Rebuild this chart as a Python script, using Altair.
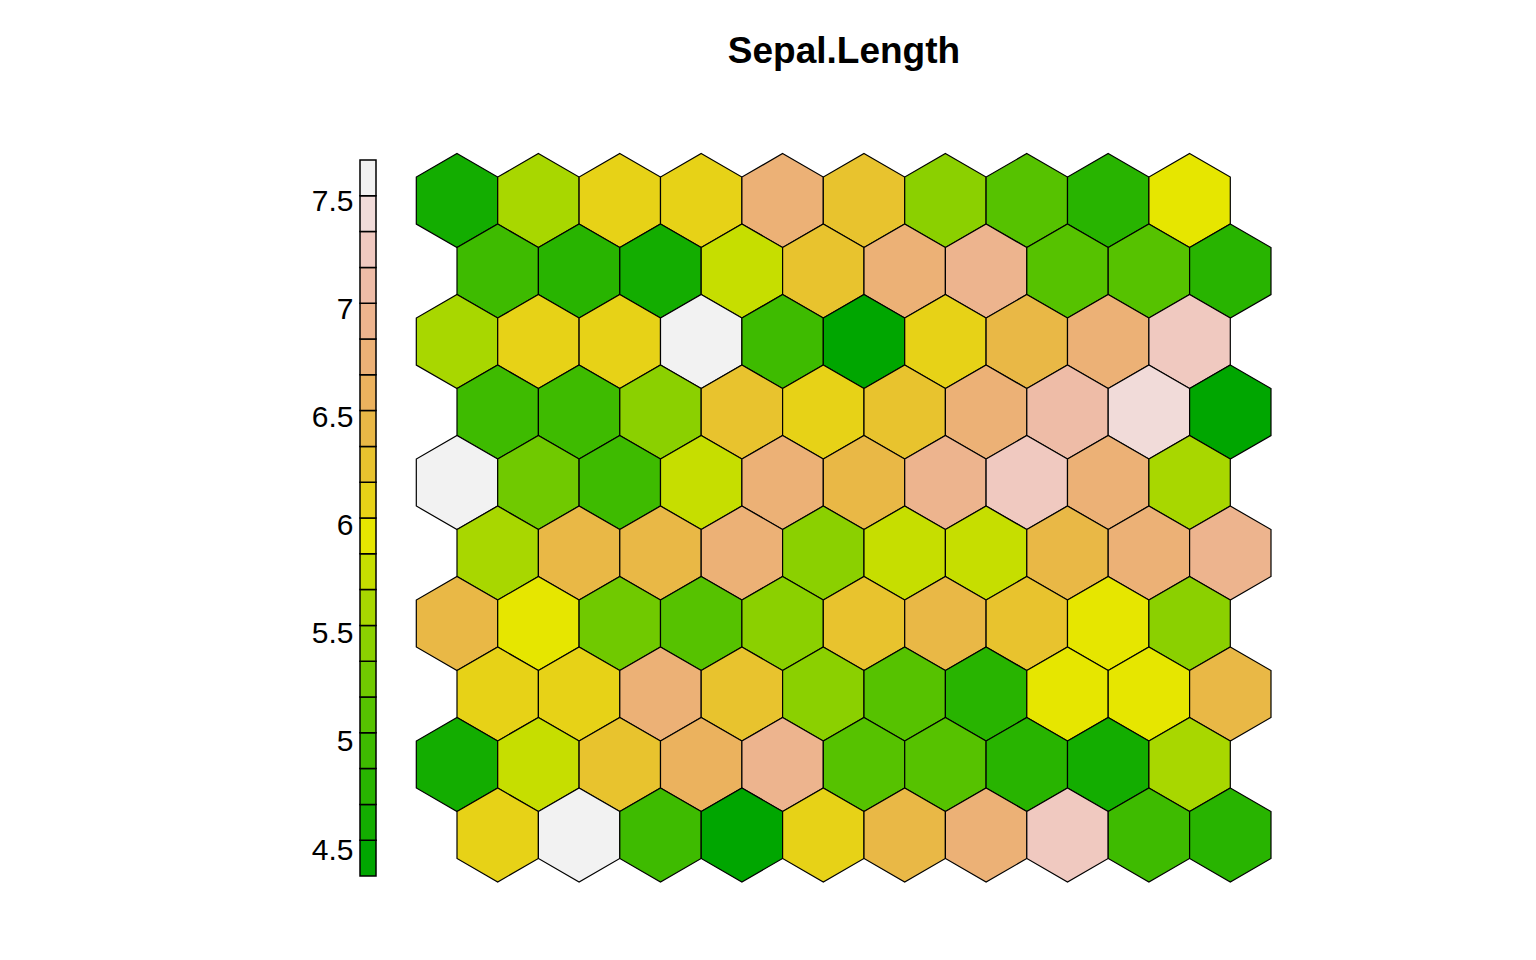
import altair as alt
import numpy as np
import pandas as pd

TITLE = "Sepal.Length"

# R terrain.colors(20)
PALETTE = ["#00A600", "#13AD00", "#28B400", "#3EBB00", "#56C200", "#70C900",
           "#8BD000", "#A8D700", "#C6DE00", "#E6E600", "#E7D217", "#E8C32E",
           "#E9B846", "#EBB25E", "#ECB176", "#EDB48E", "#EEBCA7", "#F0C9C0",
           "#F1DBD9", "#F2F2F2"]

# codebook values per SOM row, listed from the top row to the bottom row
ROW_T0 = [4.62, 5.63, 6.11, 6.13, 6.77, 6.30, 5.45, 5.12, 4.80, 5.96]
ROW_T1 = [4.95, 4.78, 4.64, 5.78, 6.28, 6.79, 6.94, 5.14, 5.13, 4.81]
ROW_T2 = [5.61, 6.12, 6.10, 7.69, 4.97, 4.38, 6.13, 6.46, 6.78, 7.27]
ROW_T3 = [4.96, 4.95, 5.47, 6.29, 6.11, 6.30, 6.77, 7.12, 7.43, 4.47]
ROW_T4 = [7.60, 5.29, 4.97, 5.80, 6.79, 6.44, 6.96, 7.29, 6.78, 5.62]
ROW_T5 = [5.63, 6.45, 6.46, 6.77, 5.46, 5.78, 5.80, 6.44, 6.79, 6.95]
ROW_T6 = [6.46, 5.95, 5.30, 5.12, 5.45, 6.28, 6.46, 6.29, 5.96, 5.47]
ROW_T7 = [6.12, 6.11, 6.78, 6.29, 5.46, 5.13, 4.79, 5.95, 5.94, 6.45]
ROW_T8 = [4.63, 5.79, 6.30, 6.62, 6.95, 5.12, 5.14, 4.80, 4.62, 5.63]
ROW_T9 = [6.12, 7.62, 4.96, 4.46, 6.13, 6.45, 6.78, 7.28, 4.97, 4.79]
ROWS = [ROW_T0, ROW_T1, ROW_T2, ROW_T3, ROW_T4, ROW_T5, ROW_T6, ROW_T7, ROW_T8, ROW_T9]

TICKS = [4.5, 5, 5.5, 6, 6.5, 7, 7.5]

# ---- build tables ----
n_rows = len(ROWS)
recs = []
for t, row in enumerate(ROWS):
    r = n_rows - 1 - t
    for c, v in enumerate(row):
        recs.append({"x": c + (0.5 if r % 2 == 0 else 0.0),
                     "y": r * np.sqrt(3) / 2,
                     "value": v})
hex_df = pd.DataFrame(recs)
vmin, vmax = float(hex_df["value"].min()), float(hex_df["value"].max())
edges = np.linspace(vmin, vmax, len(PALETTE) + 1)
bar_df = pd.DataFrame({"lo": edges[:-1], "hi": edges[1:], "color": PALETTE})

# ---- layout ----
UNIT = 81.4           # pixels per grid unit
PLOT_LEFT, PLOT_TOP = 360, 142
W, H = 968, 750
X0_PX, Y0_PX = 457, 835   # pixel of grid x=0 / y=0
x0 = -(X0_PX - PLOT_LEFT) / UNIT
x1 = x0 + W / UNIT
y0 = -((PLOT_TOP + H) - Y0_PX) / UNIT
y1 = y0 + H / UNIT
BAR_TOP, BAR_BOTTOM, BAR_W = 160, 876, 16

HEX_PATH = "M0,-1L0.866,-0.5L0.866,0.5L0,1L-0.866,0.5L-0.866,-0.5Z"
hex_size = float((2 * UNIT / np.sqrt(3)) ** 2)

hexes = alt.Chart(hex_df).mark_point(
    shape=HEX_PATH, filled=True, opacity=1, stroke="black", strokeWidth=1.2,
    size=hex_size
).encode(
    x=alt.X("x:Q", scale=alt.Scale(domain=[x0, x1], nice=False, zero=False), axis=None),
    y=alt.Y("y:Q", scale=alt.Scale(domain=[y0, y1], nice=False, zero=False), axis=None),
    fill=alt.Fill("value:Q",
                  scale=alt.Scale(type="quantize", domain=[vmin, vmax], range=PALETTE,
                                  nice=False, zero=False),
                  legend=None),
)

bar = alt.Chart(bar_df).mark_rect(stroke="black", strokeWidth=1.5).encode(
    x=alt.value(0),
    x2=alt.value(BAR_W),
    y=alt.Y("lo:Q",
            scale=alt.Scale(domain=[vmin, vmax],
                            range=[BAR_BOTTOM - PLOT_TOP, BAR_TOP - PLOT_TOP],
                            nice=False, zero=False),
            axis=alt.Axis(values=TICKS, orient="left", ticks=False, domain=False,
                          grid=False, labelFontSize=30, labelFont="Liberation Sans",
                          labelPadding=7, labelColor="black", title=None,
                          labelFlush=False, labelOverlap=False, format="~g")),
    y2="hi:Q",
    fill=alt.Fill("color:N", scale=None),
)

chart = alt.layer(bar, hexes).resolve_scale(
    x="independent", y="independent", fill="independent"
).properties(
    width=W, height=H,
    autosize="none",
    background="white",
    padding={"left": PLOT_LEFT, "top": PLOT_TOP,
             "right": 1536 - PLOT_LEFT - W, "bottom": 960 - PLOT_TOP - H},
    title=alt.Title(TITLE, fontSize=37, font="Liberation Sans", fontWeight="bold",
                    anchor="middle", baseline="alphabetic", offset=42,
                    color="black"),
).configure_view(stroke=None)

chart.save("out.html", embed_options={"renderer": "svg", "actions": False})
